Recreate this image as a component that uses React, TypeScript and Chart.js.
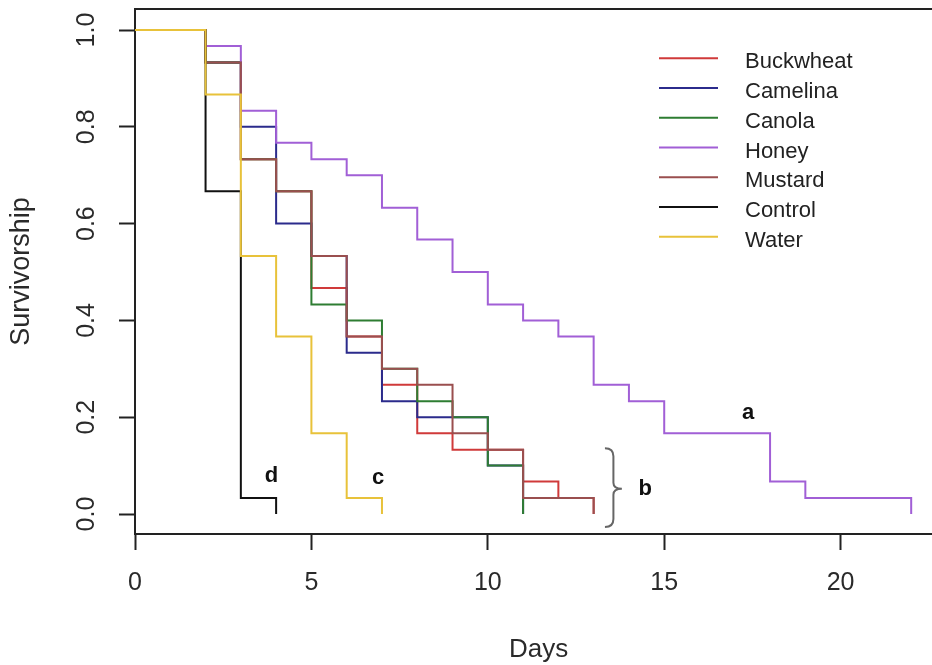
import React, { useEffect, useRef } from 'react';
import { Chart, registerables } from 'chart.js';

Chart.register(...registerables);

// ---------- data ----------
const days = [0, 1, 2, 3, 4, 5, 6, 7, 8, 9, 10, 11, 12, 13, 14, 15, 16, 17, 18, 19, 20, 21, 22];
const seriesNames = ['Buckwheat', 'Camelina', 'Canola', 'Honey', 'Mustard', 'Control', 'Water'];

// survival proportion on each day (index = day); the last entry is where the curve ends
const buckwheat = [1, 1, 0.933, 0.733, 0.667, 0.467, 0.367, 0.267, 0.167, 0.133, 0.133, 0.067, 0.033, 0];
const camelina = [1, 1, 0.933, 0.8, 0.6, 0.533, 0.333, 0.233, 0.2, 0.2, 0.1, 0];
const canola = [1, 1, 0.933, 0.733, 0.667, 0.433, 0.4, 0.3, 0.233, 0.2, 0.1, 0];
const honey = [1, 1, 0.967, 0.833, 0.767, 0.733, 0.7, 0.633, 0.567, 0.5, 0.433, 0.4, 0.367, 0.267, 0.233, 0.167, 0.167, 0.167, 0.067, 0.033, 0.033, 0.033, 0];
const mustard = [1, 1, 0.933, 0.733, 0.667, 0.533, 0.367, 0.3, 0.267, 0.167, 0.133, 0.033, 0.033, 0];
const control = [1, 1, 0.667, 0.033, 0];
const water = [1, 1, 0.867, 0.533, 0.367, 0.167, 0.033, 0];

const xTickValues = [0, 5, 10, 15, 20];
const yTickValues = [0, 0.2, 0.4, 0.6, 0.8, 1.0];

const groupLetters = ['a', 'b', 'c', 'd'];
const letterDays = [17.38, 14.46, 6.89, 3.87];
const letterLevels = [0.209, 0.052, 0.074, 0.079];

// ---------- styles ----------
const seriesValues = [buckwheat, camelina, canola, honey, mustard, control, water];
const seriesColors = ['#D03A3A', '#2B2B8C', '#2E7D32', '#A15FD6', '#9A4F4F', '#111111', '#E8C23A'];
const FONT = '"Liberation Sans", Arial, Helvetica, sans-serif';
const AXIS = '#222222';

const overlayPlugin = {
  id: 'overlay',
  afterDraw(chart: any) {
    const ctx = chart.ctx as CanvasRenderingContext2D;
    const { left, top, right, bottom } = chart.chartArea;
    const xs = chart.scales.x;
    const ys = chart.scales.y;
    ctx.save();

    // top border of the box
    ctx.strokeStyle = AXIS;
    ctx.lineWidth = 2;
    ctx.beginPath();
    ctx.moveTo(left - 1, top);
    ctx.lineTo(right, top);
    ctx.stroke();

    // x tick labels
    ctx.fillStyle = '#2a2a2a';
    ctx.font = `25px ${FONT}`;
    ctx.textAlign = 'center';
    ctx.textBaseline = 'middle';
    xTickValues.forEach((v) => {
      ctx.fillText(String(v), xs.getPixelForValue(v), 583);
    });
    // y tick labels (rotated, R style)
    yTickValues.forEach((v) => {
      ctx.save();
      ctx.translate(87, ys.getPixelForValue(v));
      ctx.rotate(-Math.PI / 2);
      ctx.fillText(v.toFixed(1), 0, 0);
      ctx.restore();
    });

    // axis titles
    ctx.font = `26px ${FONT}`;
    ctx.fillText('Days', (left + xs.getPixelForValue(22.88)) / 2, 650);
    ctx.save();
    ctx.font = `27px ${FONT}`;
    ctx.translate(22, (top + bottom) / 2);
    ctx.rotate(-Math.PI / 2);
    ctx.fillText('Survivorship', 0, 0);
    ctx.restore();

    // legend
    ctx.font = `22px ${FONT}`;
    ctx.textAlign = 'left';
    seriesNames.forEach((name, i) => {
      const y = 58.3 + 29.73 * i;
      ctx.strokeStyle = seriesColors[i];
      ctx.lineWidth = 2;
      ctx.beginPath();
      ctx.moveTo(659, y);
      ctx.lineTo(718, y);
      ctx.stroke();
      ctx.fillStyle = '#222';
      ctx.fillText(name, 745, y + 4);
    });

    // group letters
    ctx.font = `bold 22px ${FONT}`;
    ctx.textAlign = 'center';
    ctx.fillStyle = '#111';
    groupLetters.forEach((t, i) => {
      ctx.fillText(t, xs.getPixelForValue(letterDays[i]), ys.getPixelForValue(letterLevels[i]));
    });

    // brace grouping the "b" curves
    const bx0 = xs.getPixelForValue(13.32);
    const bx1 = xs.getPixelForValue(13.8);
    const bxm = (bx0 + bx1) / 2;
    const by0 = ys.getPixelForValue(0.136);
    const by1 = ys.getPixelForValue(-0.027);
    const bym = ys.getPixelForValue(0.052);
    ctx.strokeStyle = '#666';
    ctx.lineWidth = 2;
    ctx.beginPath();
    ctx.moveTo(bx0, by0);
    ctx.quadraticCurveTo(bxm, by0, bxm, by0 + 8);
    ctx.lineTo(bxm, bym - 6);
    ctx.quadraticCurveTo(bxm, bym, bx1, bym);
    ctx.quadraticCurveTo(bxm, bym, bxm, bym + 6);
    ctx.lineTo(bxm, by1 - 8);
    ctx.quadraticCurveTo(bxm, by1, bx0, by1);
    ctx.stroke();

    ctx.restore();
  },
};

export default function App() {
  const ref = useRef<HTMLCanvasElement>(null);

  useEffect(() => {
    const datasets = seriesNames.map((name, i) => ({
      label: name,
      data: seriesValues[i].map((v, d) => ({ x: days[d], y: v })),
      borderColor: seriesColors[i],
      backgroundColor: seriesColors[i],
      borderWidth: 2,
      pointRadius: 0,
      fill: false,
      // horizontal first, then the drop at the next day (Kaplan-Meier step)
      stepped: 'before' as const,
      order: seriesNames.length - 1 - i,
    }));

    const chart = new Chart(ref.current as HTMLCanvasElement, {
      type: 'line',
      data: { datasets },
      plugins: [overlayPlugin],
      options: {
        responsive: false,
        animation: false,
        devicePixelRatio: 1,
        layout: { padding: { left: 0, right: 0, top: 9, bottom: 0 } },
        plugins: { legend: { display: false }, tooltip: { enabled: false } },
        scales: {
          x: {
            type: 'linear',
            min: 0,
            max: 22.59,
            afterBuildTicks: (s: any) => {
              s.ticks = xTickValues.map((v) => ({ value: v }));
            },
            afterFit: (s: any) => {
              s.height = 131;
            },
            ticks: { display: false },
            grid: { drawOnChartArea: false, drawTicks: true, tickLength: 16, tickColor: AXIS, tickWidth: 2, color: AXIS },
            border: { display: true, color: AXIS, width: 2 },
          },
          y: {
            type: 'linear',
            min: -0.0413,
            max: 1.0434,
            afterBuildTicks: (s: any) => {
              s.ticks = yTickValues.map((v) => ({ value: v }));
            },
            afterFit: (s: any) => {
              s.width = 135;
            },
            ticks: { display: false },
            grid: { drawOnChartArea: false, drawTicks: true, tickLength: 16, tickColor: AXIS, tickWidth: 2, color: AXIS },
            border: { display: true, color: AXIS, width: 2 },
          },
        },
      },
    });
    return () => chart.destroy();
  }, []);

  return (
    <div style={{ position: 'absolute', left: 0, top: 0, width: 932, height: 665, background: '#ffffff' }}>
      <canvas ref={ref} width={932} height={665} style={{ display: 'block', width: 932, height: 665 }} />
    </div>
  );
}
